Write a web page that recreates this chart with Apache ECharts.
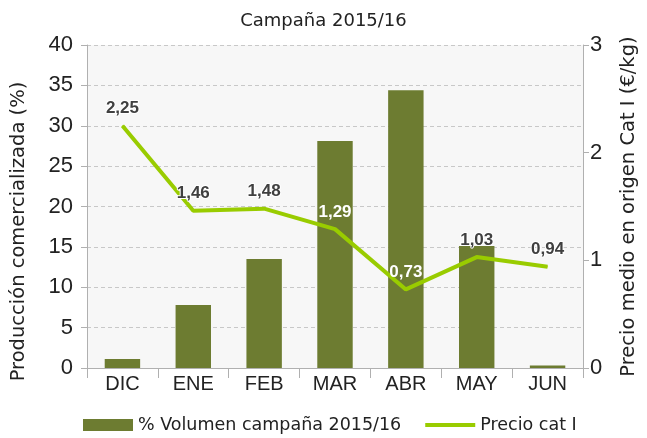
<!DOCTYPE html>
<html><head><meta charset="utf-8">
<script src="https://cdn.jsdelivr.net/npm/echarts@6/dist/echarts.min.js"></script>
<style>html,body{margin:0;padding:0;background:#fff}#c{width:647px;height:438px}</style>
</head><body><div id="c"></div>
<script>
var categories = ['DIC','ENE','FEB','MAR','ABR','MAY','JUN'];
var volumen = [1.1, 7.8, 13.5, 28.1, 34.4, 15.1, 0.3];
var precio = [2.25, 1.46, 1.48, 1.29, 0.73, 1.03, 0.94];
var leftTicks = [0, 5, 10, 15, 20, 25, 30, 35, 40];
var rightTicks = [0, 1, 2, 3];

var TXT = 'DejaVu Sans';
var NUM = 'Liberation Sans';
var whiteLabel = [false, false, false, true, true, false, false];
var chart = echarts.init(document.getElementById('c'), null, {renderer: 'canvas'});
chart.setOption({
  backgroundColor: '#ffffff',
  animation: false,
  title: {text: 'Campaña 2015/16', left: 'center', top: 7,
    textStyle: {fontFamily: TXT, fontSize: 18, fontWeight: 'normal', color: '#222'}},
  grid: {left: 87, right: 54, top: 45, bottom: 70, show: true, backgroundColor: '#f7f7f7', borderWidth: 0},
  legend: {top: 411, left: 78, itemWidth: 50, itemHeight: 12, itemGap: 24,
    textStyle: {fontFamily: TXT, fontSize: 17.5, color: '#222'},
    data: [{name: '% Volumen campaña 2015/16', icon: 'rect'},
           {name: 'Precio cat I', icon: 'path://M0,4 L50,4 L50,8 L0,8 Z'}]},
  xAxis: {type: 'category', data: categories,
    axisLine: {lineStyle: {color: '#b0b0b0', width: 1}},
    axisTick: {show: true, length: 10, lineStyle: {color: '#b0b0b0'}},
    axisLabel: {fontFamily: NUM, fontSize: 20, color: '#222', margin: 6}},
  yAxis: [
    {type: 'value', min: 0, max: 40, interval: 5, name: 'Producción comercializada (%)',
     nameLocation: 'middle', nameGap: 58, nameRotate: 90,
     nameTextStyle: {fontFamily: TXT, fontSize: 19.5, color: '#222', padding: [0, 50, 0, 0]},
     axisLine: {show: true, lineStyle: {color: '#b0b0b0'}},
     axisTick: {show: true, length: 6, lineStyle: {color: '#b0b0b0'}},
     axisLabel: {fontFamily: NUM, fontSize: 22, color: '#222', margin: 14},
     splitLine: {show: true, lineStyle: {color: '#c8c8c8', type: [4, 3]}}},
    {type: 'value', min: 0, max: 3, interval: 1, name: 'Precio medio en origen Cat I (€/kg)',
     nameLocation: 'middle', nameGap: 36, nameRotate: 90,
     nameTextStyle: {fontFamily: TXT, fontSize: 19.5, color: '#222'},
     axisLine: {show: true, lineStyle: {color: '#b0b0b0'}},
     axisTick: {show: true, length: 6, lineStyle: {color: '#b0b0b0'}},
     axisLabel: {fontFamily: NUM, fontSize: 22, color: '#222', margin: 7},
     splitLine: {show: false}}
  ],
  series: [
    {name: '% Volumen campaña 2015/16', type: 'bar', data: volumen, barWidth: '50%',
     itemStyle: {color: '#6d7c31'}},
    {name: 'Precio cat I', type: 'line', yAxisIndex: 1, symbol: 'circle', symbolSize: 1, showSymbol: true, z: 5,
     lineStyle: {color: '#99cc00', width: 4}, itemStyle: {color: '#99cc00'},
     data: precio,
     label: {show: true, position: 'top', distance: 8,
       formatter: function (p) {
         var s = p.value.toFixed(2).replace('.', ',');
         return whiteLabel[p.dataIndex] ? '{w|' + s + '}' : '{d|' + s + '}';
       },
       rich: {
         w: {fontFamily: NUM, fontSize: 17, fontWeight: 'bold', color: '#ffffff'},
         d: {fontFamily: NUM, fontSize: 17, fontWeight: 'bold', color: '#404040', textBorderColor: '#ffffff', textBorderWidth: 2}
       }}}
  ]
});
</script></body></html>
